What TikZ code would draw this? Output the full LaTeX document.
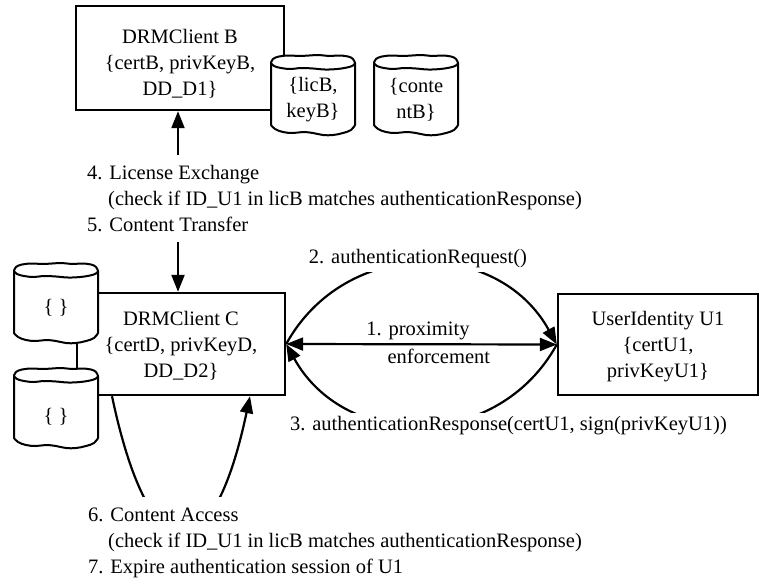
\documentclass[tikz,border=0pt]{standalone}
\usepackage{fontspec}
\setmainfont{Liberation Serif}
\usetikzlibrary{arrows.meta,calc}

% Storage drum with a slightly wavy outline; #1,#2 = top-left corner
\newcommand\dbdrum[2]{%
  \begin{scope}[shift={(#1,#2)}]
    \filldraw[drumline, fill=white]
      (0,8) -- (0,70)
      -- plot[smooth, tension=0.7] coordinates {(0,70) (4,74) (12,77) (22,78) (32,77) (42,78) (52,80) (62,80) (72,78) (80,75) (84,70)}
      -- (84,8)
      -- plot[smooth, tension=0.7] coordinates {(84,8) (82,4) (77,1.5) (68,0.5) (58,1) (48,0) (38,0.5) (28,1) (18,0.5) (8,1.5) (2,4) (0,8)}
      -- cycle;
    \draw[drumline] plot[smooth, tension=0.7] coordinates {(0,8) (3,11) (10,13) (20,14) (30,13) (42,13.5) (54,14.5) (66,14) (76,12.5) (82,10.5) (84,8)};
  \end{scope}}
\newcommand\toppad[1]{\rule{0pt}{#1}}

\tikzset{
  entity/.style={draw, line width=2.4pt, align=center, inner sep=0pt},
  store/.style={align=center, inner sep=0pt},
  msg/.style={align=left, fill=white, inner xsep=4pt},
  flow/.style={line width=2.2pt},
  drumline/.style={line width=2pt, line join=round},
}

\begin{document}
\begin{tikzpicture}[x=1pt, y=-1pt,
  every node/.style={font=\fontsize{20.5}{26}\selectfont},
  >={Triangle[length=17pt,width=13pt]}]
\path[use as bounding box, fill=white] (0,0) rectangle (760,582);

% devices and user identity
\node[entity, minimum width=208pt, minimum height=104pt] (B) at (180,58)
  {\toppad{25pt}DRMClient B\\\{certB, privKeyB,\\DD\_D1\}};
\node[entity, minimum width=208pt, minimum height=102pt] (C) at (181,344)
  {\toppad{18pt}DRMClient C\\\{certD, privKeyD,\\DD\_D2\}};
\node[entity, minimum width=200pt, minimum height=101pt] (U) at (658,344.5)
  {\toppad{19pt}UserIdentity U1\\\{certU1,\\privKeyU1\}};

% storage drums
\dbdrum{271}{55}
\dbdrum{374}{55}
\dbdrum{14}{263}
\dbdrum{14}{368}
\node[store] (licB) at (313,99.5) {\{licB,\\keyB\}};
\node[store] (contB) at (416,99.5) {\{conte\\ntB\}};
\node[store] (st1) at (56,308) {\{ \}};
\node[store] (st2) at (56,417) {\{ \}};

% license exchange / content transfer between B and C
\coordinate (bB) at ($(B.south)+(-2,0)$);
\coordinate (bC) at ($(C.north)+(-3,0)$);
\draw[flow,<->] (bC) -- (bB);
\node[msg, anchor=north west, inner ysep=10pt] (m45) at (83,155)
  {4. License Exchange\\\hspace*{21pt}(check if ID\_U1 in licB matches authenticationResponse)\\5. Content Transfer};

% proximity enforcement
\draw[flow,<->] (C.east) -- (U.west)
  node[above, pos=0.487] (p1) {1. proximity}
  node[below, pos=0.564] (p2) {enforcement};

% authentication request / response
\draw[flow,->] (C.east) .. controls +(59,-107) and +(-59,-107) .. (U.west);
\draw[flow,->] (U.west) .. controls +(-59,107) and +(59,107) .. (C.east);
\node[fill=white, inner xsep=3pt, inner ysep=4pt] (m2) at (418,258.5) {2. authenticationRequest()};
\node[fill=white, inner xsep=3pt, inner ysep=3.5pt] (m3) at (508.5,426) {3. authenticationResponse(certU1, sign(privKeyU1))};

% content access loop on C
\coordinate (c6a) at ($(C.south)+(-69,0)$);
\coordinate (c6b) at ($(C.south)+(69,0)$);
\draw[flow,->] (c6a) .. controls +(38,180) and +(-38,180) .. (c6b);
\node[msg, anchor=north west, inner ysep=11pt] (m67) at (84,497)
  {6. Content Access\\\hspace*{20pt}(check if ID\_U1 in licB matches authenticationResponse)\\7. Expire authentication session of U1};
\end{tikzpicture}
\end{document}
